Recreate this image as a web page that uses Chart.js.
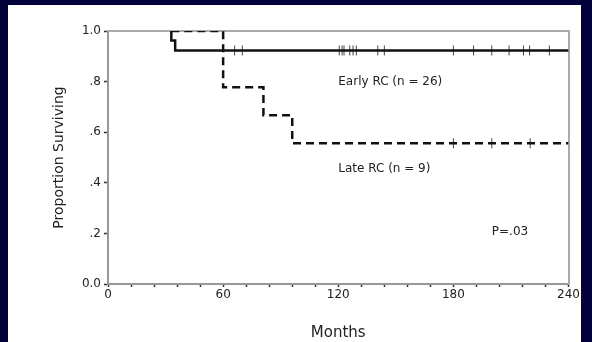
<!DOCTYPE html>
<html>
<head>
<meta charset="utf-8">
<script src="https://cdn.jsdelivr.net/npm/chart.js@4/dist/chart.umd.min.js"></script>
<style>
  html, body { margin: 0; padding: 0; background: #03013a; width: 592px; height: 342px; overflow: hidden; }
  #wrap { position: absolute; left: 8px; top: 5px; width: 573px; height: 337px; background: #fff; }
</style>
</head>
<body>
<div id="wrap"><canvas id="km"></canvas></div>
<script>
// Kaplan-Meier curves
const earlyMonths = [33, 33, 35, 240];
const earlySurv = [1.0, 0.962, 0.923, 0.923];
const lateMonths = [33, 60, 81, 96, 240];
const lateSurv = [1.0, 0.778, 0.667, 0.556, 0.556];

// censored observations (tick marks)
const earlyCensored = [66, 70, 120.5, 122, 123, 126, 127.7, 129.4, 140.6, 144, 180, 190.5, 200, 209, 216.5, 219.7, 230];
const lateCensored = [180, 200, 220];

const xTicks = [0, 60, 120, 180, 240];
const yLabels = ['0.0', '.2', '.4', '.6', '.8', '1.0'];

// survival just after time t (step function)
function survAt(times, surv, t) {
  let s = surv[0];
  for (let i = 0; i < times.length; i++) {
    if (times[i] <= t) s = surv[i];
  }
  return s;
}

const toPts = (xs, ys) => xs.map((x, i) => ({x: x, y: ys[i]}));

Chart.defaults.font.family = 'DejaVu Sans';
Chart.defaults.color = '#222';

const notes = {
  id: 'notes',
  afterDatasetsDraw(chart) {
    const {ctx, scales: {x, y}} = chart;
    ctx.save();
    ctx.font = '12px "DejaVu Sans"';
    ctx.fillStyle = '#222';
    ctx.textAlign = 'left';
    ctx.textBaseline = 'middle';
    ctx.fillText('Early RC (n = 26)', x.getPixelForValue(120), y.getPixelForValue(0.80));
    ctx.fillText('Late RC (n = 9)', x.getPixelForValue(120), y.getPixelForValue(0.455));
    ctx.fillText('P=.03', x.getPixelForValue(200), y.getPixelForValue(0.207));
    ctx.restore();
  }
};

new Chart(document.getElementById('km'), {
  type: 'scatter',
  data: {
    datasets: [
      {
        label: 'Early RC',
        data: toPts(earlyMonths, earlySurv),
        showLine: true,
        stepped: 'before',
        borderColor: '#111',
        borderWidth: 2.5,
        pointRadius: 0
      },
      {
        label: 'Late RC',
        data: toPts(lateMonths, lateSurv),
        showLine: true,
        stepped: 'before',
        borderColor: '#111',
        borderWidth: 2.5,
        borderDash: [8, 5],
        pointRadius: 0
      },
      {
        label: 'Early censored',
        data: earlyCensored.map(t => ({x: t, y: survAt(earlyMonths, earlySurv, t)})),
        pointStyle: 'line',
        rotation: 90,
        pointRadius: 5,
        borderColor: '#444',
        borderWidth: 1
      },
      {
        label: 'Late censored',
        data: lateCensored.map(t => ({x: t, y: survAt(lateMonths, lateSurv, t)})),
        pointStyle: 'line',
        rotation: 90,
        pointRadius: 5,
        borderColor: '#444',
        borderWidth: 1
      }
    ]
  },
  options: {
    responsive: true,
    maintainAspectRatio: false,
    animation: false,
    layout: { padding: { left: 0, right: 6, top: 26, bottom: 0 } },
    plugins: { legend: { display: false }, tooltip: { enabled: false } },
    scales: {
      x: {
        type: 'linear',
        min: 0,
        max: 240,
        afterFit: s => { s.height = 58; },
        afterBuildTicks: s => { s.ticks = []; for (let v = 0; v <= 240; v += 12) s.ticks.push({value: v}); },
        ticks: {
          autoSkip: false,
          maxRotation: 0,
          padding: 1,
          font: { size: 12 },
          callback: v => xTicks.includes(v) ? String(v) : ''
        },
        grid: { drawOnChartArea: false, tickLength: 3, tickColor: '#333', tickWidth: 1.5 },
        border: { color: '#999', width: 2 },
        title: { display: true, text: 'Months', font: { size: 15 }, padding: { top: 0, bottom: 0 } }
      },
      y: {
        min: 0,
        max: 1,
        afterFit: s => { s.width = 100; },
        ticks: {
          stepSize: 0.2,
          padding: 3,
          font: { size: 12 },
          callback: (v, i) => yLabels[i]
        },
        grid: { drawOnChartArea: false, tickLength: 4, tickColor: '#333', tickWidth: 1.5 },
        border: { color: '#999', width: 2 },
        title: { display: true, text: 'Proportion Surviving', font: { size: 14 }, padding: { top: 43 } }
      },
      xTop: {
        type: 'linear',
        position: 'top',
        min: 0,
        max: 240,
        afterFit: s => { s.height = 0; },
        ticks: { display: false },
        grid: { display: false },
        border: { color: '#aaa', width: 2 }
      },
      yRight: {
        position: 'right',
        min: 0,
        max: 1,
        afterFit: s => { s.width = 0; },
        ticks: { display: false },
        grid: { display: false },
        border: { color: '#aaa', width: 2 }
      }
    }
  },
  plugins: [notes]
});
</script>
</body>
</html>
